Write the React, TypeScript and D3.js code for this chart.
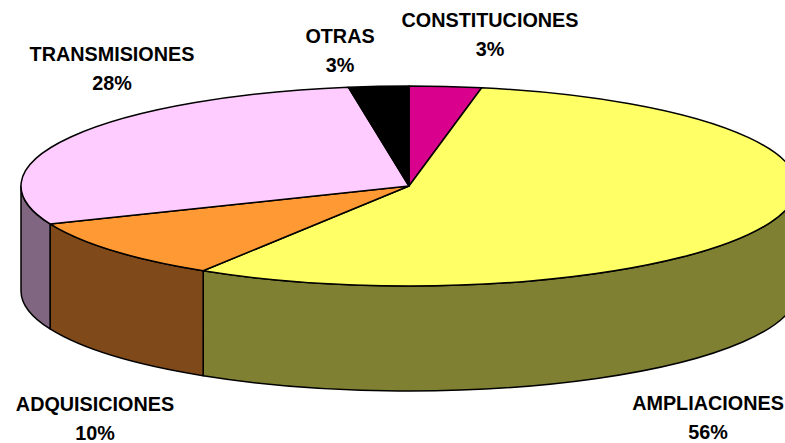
import React from "react";
import * as d3 from "d3";

const categories = ["CONSTITUCIONES", "AMPLIACIONES", "ADQUISICIONES", "TRANSMISIONES", "OTRAS"];
const shares = [3.0, 55.9, 9.9, 28.7, 2.5];
const percentLabels = ["3%", "56%", "10%", "28%", "3%"];
const topColors = ["#d8008c", "#ffff66", "#ff9933", "#ffccff", "#000000"];
const sideColors = ["#6c0046", "#808033", "#80491a", "#806680", "#000000"];
const labelPositions: [number, number][] = [[490, 27], [708, 410], [95, 411], [112, 61], [340, 43]];

const W = 785, H = 443, cx = 409, cy = 186, rx = 388, ry = 100, depth = 105;

const pie = d3.pie<number>().sort(null).value((d) => d)(shares);
const pt = (a: number, dy = 0): [number, number] => [cx + rx * Math.sin(a), cy - ry * Math.cos(a) + dy];

function topPath(a0: number, a1: number) {
  const [x0, y0] = pt(a0);
  const [x1, y1] = pt(a1);
  const large = a1 - a0 > Math.PI ? 1 : 0;
  return `M${cx},${cy}L${x0},${y0}A${rx},${ry} 0 ${large} 1 ${x1},${y1}Z`;
}

// Side wall only exists on the front half of the ellipse (PI/2..3PI/2)
function sidePath(a0: number, a1: number) {
  const s = Math.max(a0, Math.PI / 2);
  const e = Math.min(a1, (3 * Math.PI) / 2);
  if (e <= s) return null;
  const [x0, y0] = pt(s);
  const [x1, y1] = pt(e);
  const [x2, y2] = pt(e, depth);
  const [x3, y3] = pt(s, depth);
  return `M${x0},${y0}A${rx},${ry} 0 0 1 ${x1},${y1}L${x2},${y2}A${rx},${ry} 0 0 0 ${x3},${y3}Z`;
}

export default function App() {
  return (
    <svg width={W} height={H} style={{ position: "absolute", left: 0, top: 0, background: "#fff" }}>
      <g stroke="#000" strokeWidth={1.5} strokeLinejoin="round">
        {pie.map((d, i) => {
          const p = sidePath(d.startAngle, d.endAngle);
          return p ? <path key={i} d={p} fill={sideColors[i]} /> : null;
        })}
        {pie.map((d, i) => (
          <path key={i} d={topPath(d.startAngle, d.endAngle)} fill={topColors[i]} />
        ))}
      </g>
      <g fontFamily="Liberation Sans, Arial, sans-serif" fontWeight="bold" fontSize={19.8} fill="#000" textAnchor="middle">
        {categories.map((c, i) => (
          <text key={c} x={labelPositions[i][0]} y={labelPositions[i][1]}>
            <tspan x={labelPositions[i][0]}>{c}</tspan>
            <tspan x={labelPositions[i][0]} dy={29}>{percentLabels[i]}</tspan>
          </text>
        ))}
      </g>
    </svg>
  );
}
